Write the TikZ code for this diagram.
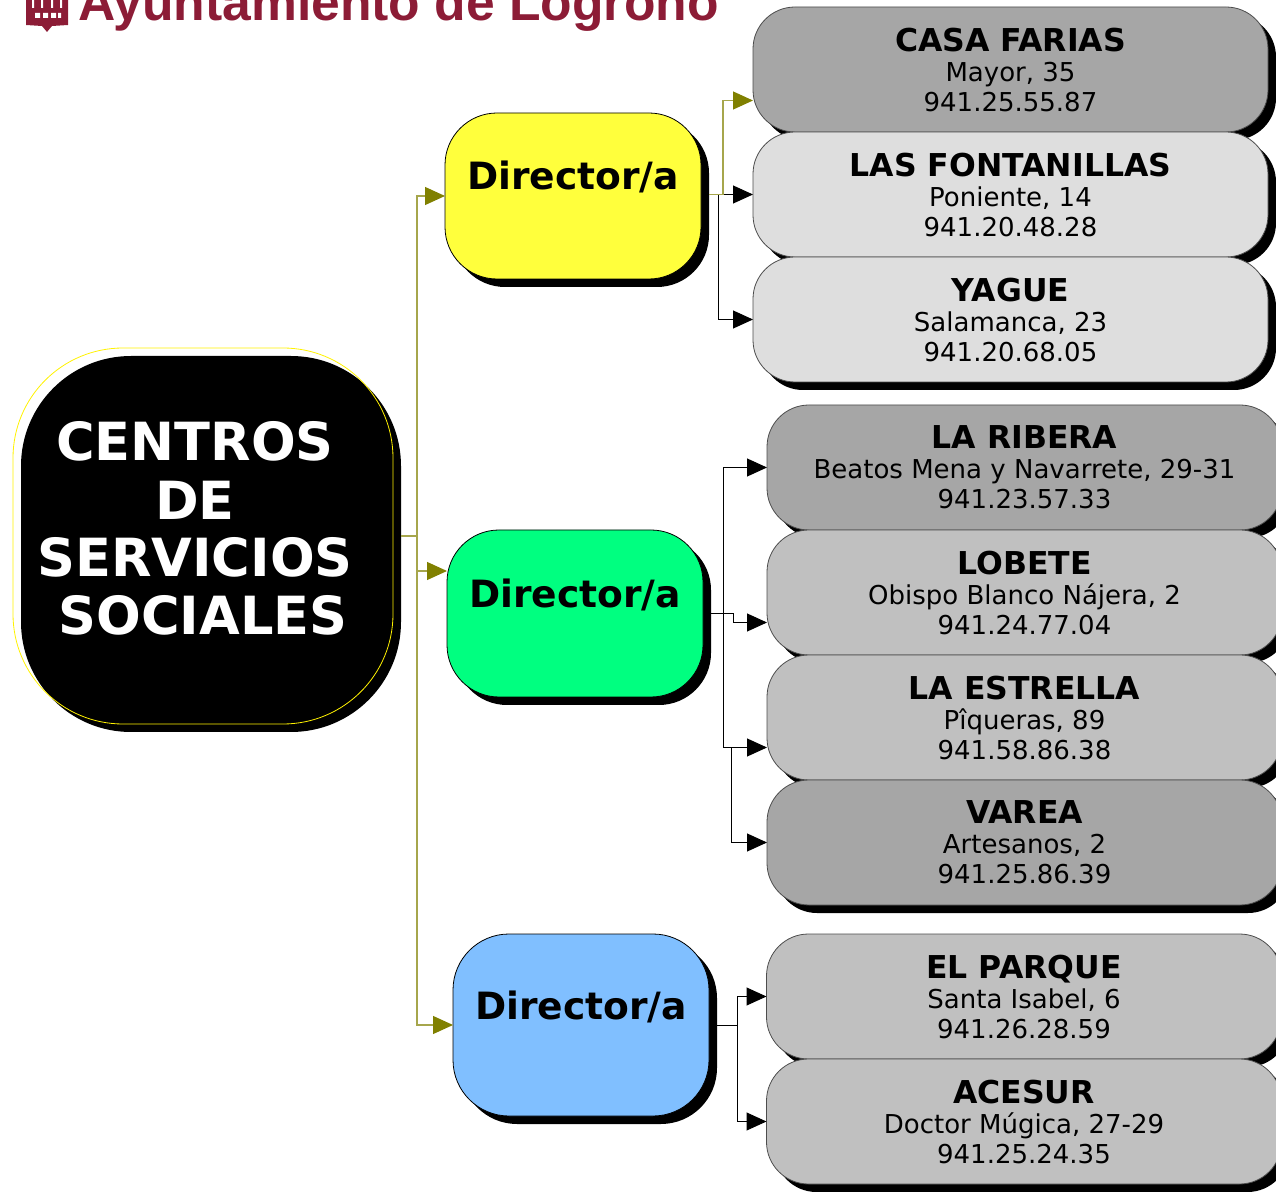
\documentclass[tikz,border=0pt]{standalone}
\usepackage{fontspec}
\setmainfont{DejaVu Sans}
\newfontfamily\logofont{Liberation Sans}
\usetikzlibrary{positioning,arrows.meta,shadows}

\newcommand{\office}[3]{{\bfseries\fontsize{15.75}{18}\selectfont #1}\\#2\\#3}
\newcommand{\padded}[1]{\mbox{#1\kern8pt}}

\begin{document}
\begin{tikzpicture}[
        x=0.5pt,y=-0.5pt,
        centre/.style={
                rectangle,
                rounded corners=55pt,
                draw=yellow,
                line width=0.4pt,
                text=white,
                align=center,
                inner sep=0pt,
                outer sep=0pt,
                minimum width=190pt,
                minimum height=188pt,
                font=\bfseries\fontsize{26.3}{29}\selectfont,
                general shadow={fill=black,shadow xshift=4pt,shadow yshift=-4pt}
            },
        director/.style={
                rectangle,
                rounded corners=26pt,
                draw=black,
                line width=0.4pt,
                inner sep=0pt,
                outer sep=0pt,
                minimum width=128pt,
                text height=14pt,
                text depth=20pt,
                font=\bfseries\fontsize{18.8}{22}\selectfont,
                general shadow={fill=black,shadow xshift=4pt,shadow yshift=-4pt}
            },
        office/.style={
                rectangle,
                rounded corners=21pt,
                draw=black!70,
                line width=0.4pt,
                align=center,
                inner sep=0pt,
                outer sep=0pt,
                minimum width=257.5pt,
                minimum height=62.5pt,
                font=\fontsize{13}{15}\selectfont,
                general shadow={fill=black,shadow xshift=4pt,shadow yshift=-4pt}
            },
        dark/.style={fill=officedark},
        mid/.style={fill=officemid},
        light/.style={fill=officelight},
        link/.style={->,black,line width=0.5pt,shorten <=4pt},
        olivelink/.style={-{Triangle[length=10pt,width=9pt,color=olive2]},draw=olive2!70,line width=0.6pt,shorten <=4pt},
        >={Triangle[length=10pt,width=9pt]},
        node distance=0pt
    ]
    \definecolor{officedark}{HTML}{A6A6A6}
    \definecolor{officemid}{HTML}{C0C0C0}
    \definecolor{officelight}{HTML}{DEDEDE}
    \definecolor{olive2}{HTML}{808000}
    \definecolor{logored}{HTML}{8C1C36}
    \useasboundingbox (0,0) rectangle (1276,1192);

    \fill[logored] (26,-2) -- (68,-2) -- (68,25) -- (52,26) -- (47,32) -- (42,26) -- (26,25) -- cycle;
    \fill[white] (32,0) rectangle (34,8) (41,0) rectangle (43,8) (51,0) rectangle (53,8) (60,0) rectangle (62,8);
    \fill[white] (35,13) rectangle (40,18) (43,13) rectangle (48,18) (51,13) rectangle (56,18) (58,13) rectangle (61,18);
    \node[anchor=base west,inner sep=0pt,text=logored,font=\logofont\bfseries\fontsize{25.8}{30}\selectfont] (logo) at (78,21) {Ayuntamiento de Logroño};

    \node[centre,text height=100pt,text depth=1pt] (central) at (203,536) {\padded{CENTROS}\\\padded{DE}\\\padded{SERVICIOS}\\SOCIALES};

    \node[director,fill={rgb,255:red,255;green,255;blue,60},minimum height=83pt] (dira) at (573,196) {Director/a};
    \node[director,fill={rgb,255:red,0;green,255;blue,128},minimum height=83.5pt] (dirb) at (575,613.5) {Director/a};
    \node[director,rounded corners=28pt,fill={rgb,255:red,128;green,191;blue,255},minimum height=91pt] (dirc) at (581,1025) {Director/a};

    \node[office,dark] (casa) at (1010.5,69.5) {\office{CASA FARIAS}{Mayor, 35}{941.25.55.87}};
    \node[office,light] (fontanillas) [below=of casa] {\office{LAS FONTANILLAS}{Poniente, 14}{941.20.48.28}};
    \node[office,light] (yague) [below=of fontanillas] {\office{YAGUE}{Salamanca, 23}{941.20.68.05}};

    \node[office,dark] (ribera) at (1024.5,467.5) {\office{LA RIBERA}{Beatos Mena y Navarrete, 29-31}{941.23.57.33}};
    \node[office,mid] (lobete) [below=of ribera] {\office{LOBETE}{Obispo Blanco Nájera, 2}{941.24.77.04}};
    \node[office,mid] (estrella) [below=of lobete] {\office{LA ESTRELLA}{Pîqueras, 89}{941.58.86.38}};
    \node[office,dark] (varea) [below=of estrella] {\office{VAREA}{Artesanos, 2}{941.25.86.39}};

    \node[office,mid] (parque) at (1024,996.5) {\office{EL PARQUE}{Santa Isabel, 6}{941.26.28.59}};
    \node[office,mid] (acesur) [below=of parque] {\office{ACESUR}{Doctor Múgica, 27-29}{941.25.24.35}};

    \draw[olivelink] (central.east) -- ++(24,0) |- (dira.west);
    \draw[olivelink] (central.east) -- ++(24,0) |- ([yshift=-17.5pt]central.east -| dirb.west);
    \draw[olivelink] (central.east) -- ++(24,0) |- (dirc.west);

    \draw[link] (dira.east |- fontanillas.west) -- (fontanillas.west);
    \draw[link] (dira.east |- fontanillas.west) -- ++(17,0) |- (yague.west);
    \draw[olivelink] (dira.east |- fontanillas.west) -- ++(22,0) |- ([yshift=-15.5pt]casa.west);

    \draw[link] (dirb.east) -- ++(20,0) |- (ribera.west);
    \draw[link] (dirb.east) -- ++(20,0) |- ([yshift=-15pt]estrella.west);
    \draw[link] (dirb.east) -- ++(30,0) |- ([yshift=-15pt]lobete.west);
    \draw[link,shorten <=0pt] ([xshift=-18pt,yshift=-15pt]estrella.west) |- (varea.west);

    \draw[link] (dirc.east) -- ++(28,0) |- (parque.west);
    \draw[link] (dirc.east) -- ++(28,0) |- (acesur.west);
\end{tikzpicture}
\end{document}
